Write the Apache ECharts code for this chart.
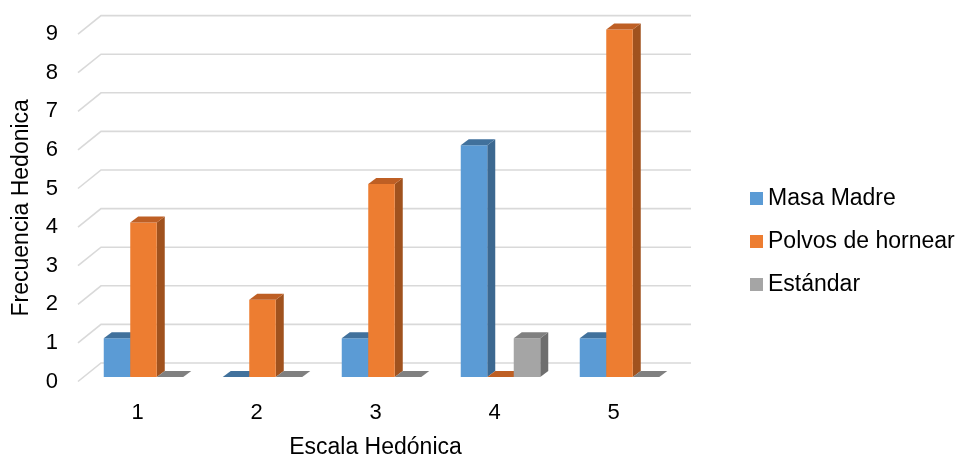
<!DOCTYPE html>
<html>
<head>
<meta charset="utf-8">
<script src="https://cdn.jsdelivr.net/npm/echarts@6/dist/echarts.min.js"></script>
<style>
  html, body { margin: 0; padding: 0; background: #fff; }
  #chart { width: 966px; height: 457px; }
</style>
</head>
<body>
<div id="chart"></div>
<script>
// Hedonic scale categories and response counts per bread type
const categories = ['1', '2', '3', '4', '5'];
const masaMadre = [1, 0, 1, 6, 1];
const polvosHornear = [4, 2, 5, 0, 9];
const estandar = [0, 0, 0, 1, 0];
const yTicks = [0, 1, 2, 3, 4, 5, 6, 7, 8, 9];

const seriesNames = ['Masa Madre', 'Polvos de hornear', 'Estándar'];
const seriesData = [masaMadre, polvosHornear, estandar];
// front / top / side shades for the pseudo-3D columns
const shades = [
  { front: '#5B9BD5', top: '#41719C', side: '#3C6890' },
  { front: '#ED7D31', top: '#BE5F24', side: '#A0521E' },
  { front: '#A5A5A5', top: '#808080', side: '#6E6E6E' }
];

const FONT = '"Liberation Sans", Arial, sans-serif';
const WALL = [23, -18.5];   // depth offset of the back wall
const BAR_POS = [6, -4.6];  // depth of column front faces
const BAR_DEPTH = [8, -6];  // column thickness in depth

const chart = echarts.init(document.getElementById('chart'), null, { renderer: 'canvas' });

function gridRender(params, api) {
  const v = api.value(0);
  const cs = params.coordSys;
  const y = api.coord([0, v])[1];
  const xL = cs.x;
  const xR = cs.x + cs.width;
  return {
    type: 'polyline',
    shape: {
      points: [
        [xL, y],
        [xL + WALL[0], y + WALL[1]],
        [xR + 18, y + WALL[1]]
      ]
    },
    style: { stroke: '#D9D9D9', lineWidth: 1.6, fill: null }
  };
}

function barRender(si) {
  return function (params, api) {
    const c = api.value(0);
    const v = api.value(1);
    const bw = api.size([1, 0])[0];
    const barW = bw * 26.5 / 119;
    const base = api.coord([c, 0]);
    const top = api.coord([c, v]);
    const cx = base[0] + BAR_POS[0];
    const x0 = cx - 1.5 * barW + si * barW;
    const x1 = x0 + barW;
    const y0 = base[1] + BAR_POS[1];
    const y1 = top[1] + BAR_POS[1];
    const dx = BAR_DEPTH[0], dy = BAR_DEPTH[1];
    const s = shades[si];
    const children = [];
    if (y0 - y1 > 0.5) {
      children.push({
        type: 'polygon',
        shape: { points: [[x1, y1], [x1 + dx, y1 + dy], [x1 + dx, y0 + dy], [x1, y0]] },
        style: { fill: s.side }
      });
      children.push({
        type: 'rect',
        shape: { x: x0, y: y1, width: barW, height: y0 - y1 },
        style: { fill: s.front }
      });
    }
    children.push({
      type: 'polygon',
      shape: { points: [[x0, y1], [x1, y1], [x1 + dx, y1 + dy], [x0 + dx, y1 + dy]] },
      style: { fill: s.top }
    });
    return { type: 'group', children: children };
  };
}

const series = [{
  type: 'custom',
  name: '_grid',
  silent: true,
  z: 1,
  renderItem: gridRender,
  data: yTicks.map(t => [t]),
  encode: { y: 0 }
}];

seriesData.forEach((arr, si) => {
  series.push({
    type: 'custom',
    name: seriesNames[si],
    z: 2 + si,
    itemStyle: { color: shades[si].front },
    renderItem: barRender(si),
    data: arr.map((v, i) => [i, v]),
    encode: { x: 0, y: 1 }
  });
});

chart.setOption({
  animation: false,
  backgroundColor: '#ffffff',
  textStyle: { fontFamily: FONT },
  grid: { left: 78, right: 293, top: 34.1, bottom: 75.5, containLabel: false, outerBoundsMode: 'none' },
  legend: {
    data: seriesNames,
    orient: 'vertical',
    left: 745,
    top: 182,
    itemWidth: 13,
    itemHeight: 13,
    itemGap: 20,
    icon: 'rect',
    textStyle: { fontFamily: FONT, fontSize: 23, color: '#000', lineHeight: 22 }
  },
  xAxis: {
    type: 'category',
    data: categories,
    boundaryGap: true,
    axisLine: { show: false },
    axisTick: { show: false },
    axisLabel: { fontFamily: FONT, fontSize: 22, color: '#000', margin: 20 },
    name: 'Escala Hedónica',
    nameLocation: 'middle',
    nameGap: 55,
    nameTextStyle: { fontFamily: FONT, fontSize: 23, color: '#000' }
  },
  yAxis: {
    type: 'value',
    min: 0,
    max: 9,
    interval: 1,
    axisLine: { show: false },
    axisTick: { show: false },
    splitLine: { show: false },
    axisLabel: { fontFamily: FONT, fontSize: 22, color: '#000', margin: 20 },
    name: 'Frecuencia Hedonica',
    nameLocation: 'middle',
    nameGap: 45,
    nameTextStyle: { fontFamily: FONT, fontSize: 23, color: '#000' }
  },
  series: series
});
</script>
</body>
</html>
